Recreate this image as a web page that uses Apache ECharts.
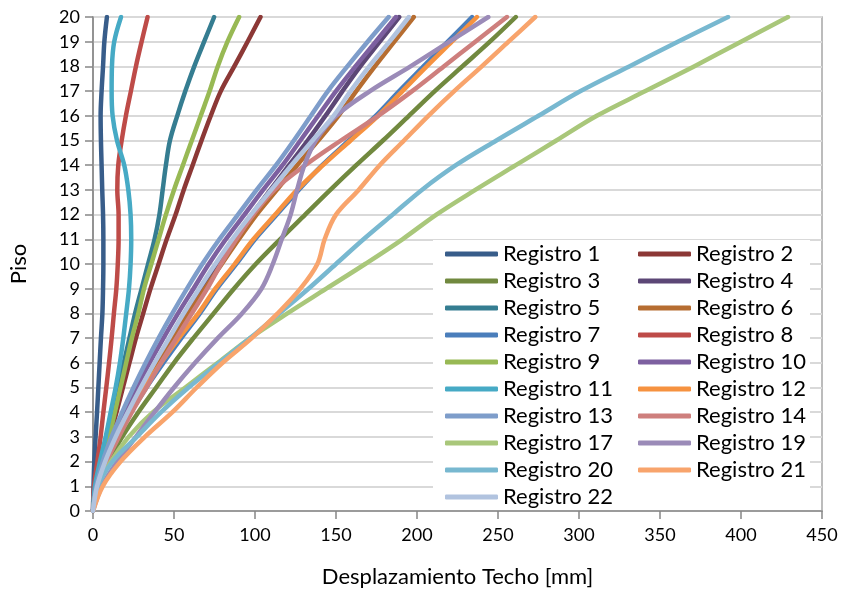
<!DOCTYPE html>
<html>
<head>
<meta charset="utf-8">
<script src="https://cdn.jsdelivr.net/npm/echarts@6/dist/echarts.min.js"></script>
<style>
html,body{margin:0;padding:0;background:#fff;}
#chart{width:843px;height:593px;}
</style>
</head>
<body>
<div id="chart"></div>
<script>
// Floors (Piso)
var floors = [0,1,2,3,4,5,6,7,8,9,10,11,12,13,14,15,16,17,18,19,20];
// Roof displacement per floor [mm], one array per record
var names = ["Registro 1","Registro 2","Registro 3","Registro 4","Registro 5","Registro 6","Registro 7","Registro 8","Registro 9","Registro 10","Registro 11","Registro 12","Registro 13","Registro 14","Registro 17","Registro 19","Registro 20","Registro 21","Registro 22"];
var reg1  = [0,0.3,0.8,1.6,2.5,3.3,4.1,4.9,5.8,6.2,6.4,6.4,6.2,5.7,5.3,4.9,4.7,5.3,6.2,7,8.6];
var reg2  = [0,2.8,6.6,10.5,14.5,18.5,22.5,26.5,31,35.5,40.5,45.5,51,56,61.5,67,72.7,78.9,87.2,95.4,103.4];
var reg3  = [0,3,9.5,18,28,39,50,62,74.5,87,100.5,115.5,131,146.5,162.5,179,195,211,228,245,261];
var reg4  = [0,2.5,8,14.5,22,30.5,39,48,57,66.5,76.5,87,98,109.5,121,132.5,143.5,154,165,177,189];
var reg5  = [0,3,6,9,12.5,15.5,19,22.5,26,30,34,38,41,43,45,47.5,52,57,62.5,68.6,74.8];
var reg6  = [0,2.5,8,15,23,31.5,40.5,49.5,59,69,79.5,90,101,113.5,126,139,151.5,162.5,174,186,198];
var reg7  = [0,2.5,7.5,15,23.5,33,43.5,54.5,66,76.5,88.5,100,113.5,127,141.5,158,174.5,189,204,219,234];
var reg8  = [0,0.6,2.7,4.7,6.4,8.2,9.9,11.5,12.9,14.4,15.3,15.8,15.8,15,15.6,17.7,20.3,23.4,26.5,30,33.7];
var reg9  = [0,2.7,6.2,10,13.5,17,20.5,24,28,31.5,36,40.5,45,50,55.5,61,66.5,72,77,83,90.2];
var reg10 = [0,2.5,6.5,12.5,19.5,27,35,43.5,52.5,62,71.5,82,93.5,105,117,128,139,150,162,174.5,187];
var reg11 = [0,1.2,4.3,7.8,10.9,14,16.6,18.7,20.5,22.2,23.2,23.6,23.2,21.8,19.3,14.8,12.1,11.5,11.7,13.1,17.3];
var reg12 = [0,2.5,7.5,15,23,32,42,53,65,75.5,87.5,99,112.5,126,142,159,176,191,206,221.5,237];
var reg13 = [0,2,6,11.5,18,25,32.5,40.5,49,58,67.5,78,89.5,101,113,124,134.5,145,157,169.5,182.5];
var reg14 = [0,3,8.5,16,24,33,42,51.5,61,70.5,79,88.5,99,112,131,153,176,197,216.5,236,255.5];
var reg17 = [0,3,11,22,37,57,77,97,120,144,168,191,212,236,261,286,311,341,371,400,429];
var reg19 = [0,5.5,15,26.5,38,50,63,77,92,104,111,116.5,122,126,130.5,137.5,150,171,196,220,244];
var reg20 = [0,3,12,27,42,59,78,97,115,133,150,167,185,203,224,249,275,301,331,361,392];
var reg21 = [0,6,17,32,49,64,80,98,114,128,138.5,143,150,164,177,192,207,223,240,256.5,273];
var reg22 = [0,2.5,7.5,14,21.5,29.5,38,47,56,65.5,75.5,86,97.5,110,122.5,135.5,148.5,159,170.5,183,195];
var values = [reg1,reg2,reg3,reg4,reg5,reg6,reg7,reg8,reg9,reg10,reg11,reg12,reg13,reg14,reg17,reg19,reg20,reg21,reg22];
var colors = ["#385D8A","#8C3836","#71893F","#5C4776","#357D91","#B66D31","#4A7EBB","#BE4B48","#98B954","#7D60A0","#46AAC5","#F69240","#7E9DCA","#CE7F7D","#A9C77A","#9B8BB8","#78B8D0","#F8A46C","#B1C3DF"];
var xTicks = {min:0,max:450,interval:50};
var yTicks = {min:0,max:20,interval:1};

var font = "Lato, 'Open Sans', sans-serif";
var series = names.map(function(n,i){
  return {
    name:n, type:'line', smooth:0.35, symbol:'none',
    data: values[i].map(function(v,k){return [v, floors[k]];}),
    lineStyle:{width:4.5,color:colors[i],cap:'round',join:'round'},
    itemStyle:{color:colors[i]},
    emphasis:{disabled:true},
    z:2+i
  };
});

var legendData = names.map(function(n,i){
  return {name:n, textStyle:{width:(i%2===0)?130:110}};
});

var chart = echarts.init(document.getElementById('chart'),null,{renderer:'canvas'});
chart.setOption({
  animation:false,
  backgroundColor:'#fff',
  grid:{left:92,right:21,top:17,bottom:81,show:true,borderColor:'#A6A6A6',borderWidth:1.5,backgroundColor:'transparent'},
  xAxis:{type:'value',min:xTicks.min,max:xTicks.max,interval:xTicks.interval,
    name:'Desplazamiento Techo [mm]',nameLocation:'middle',nameGap:55,
    nameTextStyle:{fontFamily:font,fontSize:22,color:'#000'},
    axisLine:{show:true,lineStyle:{color:'#868686',width:1.5}},
    axisTick:{show:true,inside:false,length:8,lineStyle:{color:'#868686',width:1.5}},
    axisLabel:{fontFamily:font,fontSize:18,color:'#000',margin:15},
    splitLine:{show:false}},
  yAxis:{type:'value',min:yTicks.min,max:yTicks.max,interval:yTicks.interval,
    name:'Piso',nameLocation:'middle',nameGap:63,nameRotate:90,
    nameTextStyle:{fontFamily:font,fontSize:22,color:'#000'},
    axisLine:{show:true,lineStyle:{color:'#868686',width:1.5}},
    axisTick:{show:true,inside:false,length:8,lineStyle:{color:'#868686',width:1.5}},
    axisLabel:{fontFamily:font,fontSize:18,color:'#000',margin:13},
    splitLine:{show:true,lineStyle:{color:'#D9D9D9',width:2}}},
  legend:{
    show:true, orient:'horizontal', left:433, top:240, width:376,
    padding:[3,4,2,12], itemGap:5, itemWidth:53, itemHeight:5,
    icon:'roundRect',
    backgroundColor:'#fff',
    data:legendData,
    textStyle:{fontFamily:font,fontSize:22,color:'#000',lineHeight:22},
    selectedMode:false
  },
  series:series
});
</script>
</body>
</html>
